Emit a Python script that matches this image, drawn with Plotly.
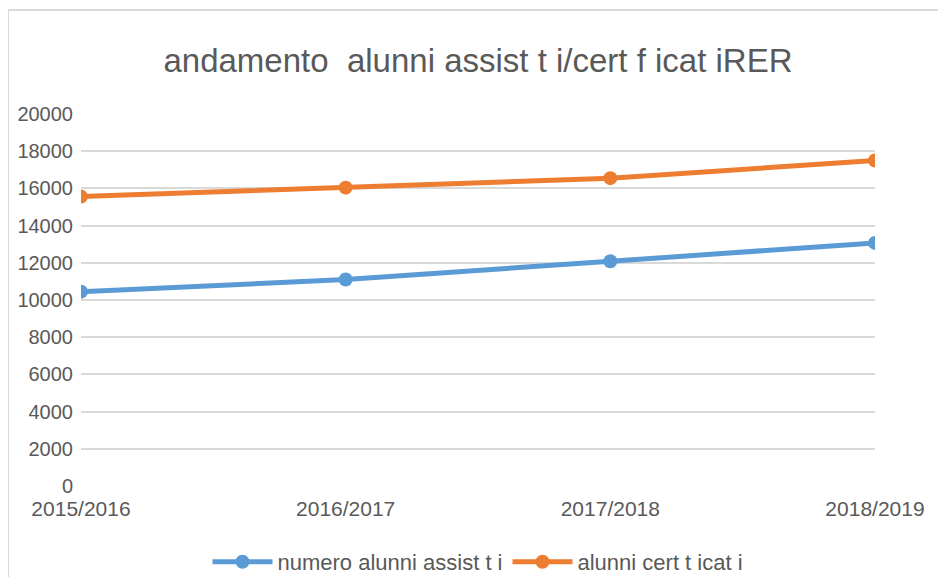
import plotly.graph_objects as go

categories = ["2015/2016", "2016/2017", "2017/2018", "2018/2019"]
assistiti = [10450, 11100, 12080, 13070]
certificati = [15560, 16040, 16550, 17500]
series_names = ["numero alunni assist t i", "alunni cert t icat i"]
title_text = "andamento  alunni assist t i/cert f icat iRER"
y_ticks = list(range(0, 20001, 2000))
y_tick_text = [str(v) for v in y_ticks]

# page has an 8px body margin: the figure starts at page pixel (8, 8)
OFF = 8
W, H = 946 - OFF, 577 - OFF
L = 81 - OFF
R = 946 - 875
T = 114 - OFF
B = H - (486 - OFF)
pw, ph = W - L - R, H - T - B

font_fam = "Liberation Sans, Arial, sans-serif"
txt_col = "#595959"

fig = go.Figure()
fig.add_trace(go.Scatter(x=categories, y=assistiti, name=series_names[0], mode="lines+markers",
                         line=dict(color="#5B9BD5", width=5), marker=dict(size=14, color="#5B9BD5")))
fig.add_trace(go.Scatter(x=categories, y=certificati, name=series_names[1], mode="lines+markers",
                         line=dict(color="#ED7D31", width=5), marker=dict(size=14, color="#ED7D31")))

def px_x(p):
    return (p - OFF - L) / pw

def px_y(p):
    return (H - B - (p - OFF)) / ph

fig.update_layout(
    width=W, height=H,
    margin=dict(l=L, r=R, t=T, b=B, autoexpand=False),
    paper_bgcolor="white", plot_bgcolor="white",
    font=dict(family=font_fam, color=txt_col, size=21),
    title=dict(text=title_text, x=0.5, xref="paper", xanchor="center",
               y=1 - (60 - OFF) / H, yref="container", yanchor="middle",
               font=dict(size=33, color=txt_col, family=font_fam)),
    xaxis=dict(type="category", range=[0, 3], showgrid=False, showline=False, zeroline=False,
               ticks="", ticklabelstandoff=8, tickfont=dict(size=21, color=txt_col)),
    yaxis=dict(range=[0, 20000], tickvals=y_ticks, ticktext=y_tick_text, showgrid=True,
               gridcolor="#D9D9D9", gridwidth=1.5, ticklabelstandoff=7,
               zeroline=False, showline=False, ticks="", tickfont=dict(size=20, color=txt_col)),
    legend=dict(orientation="h", x=0.5, xanchor="center", xref="paper",
                y=1 - (562 - OFF) / H, yref="container", yanchor="middle",
                font=dict(size=22, color=txt_col), itemwidth=60),
    showlegend=True,
    shapes=[dict(type="rect", xref="paper", yref="paper",
                 x0=px_x(8), x1=px_x(960), y0=px_y(590), y1=px_y(10),
                 line=dict(color="#D9D9D9", width=2), fillcolor="rgba(0,0,0,0)", layer="below")],
)

fig.write_html("out.html")
